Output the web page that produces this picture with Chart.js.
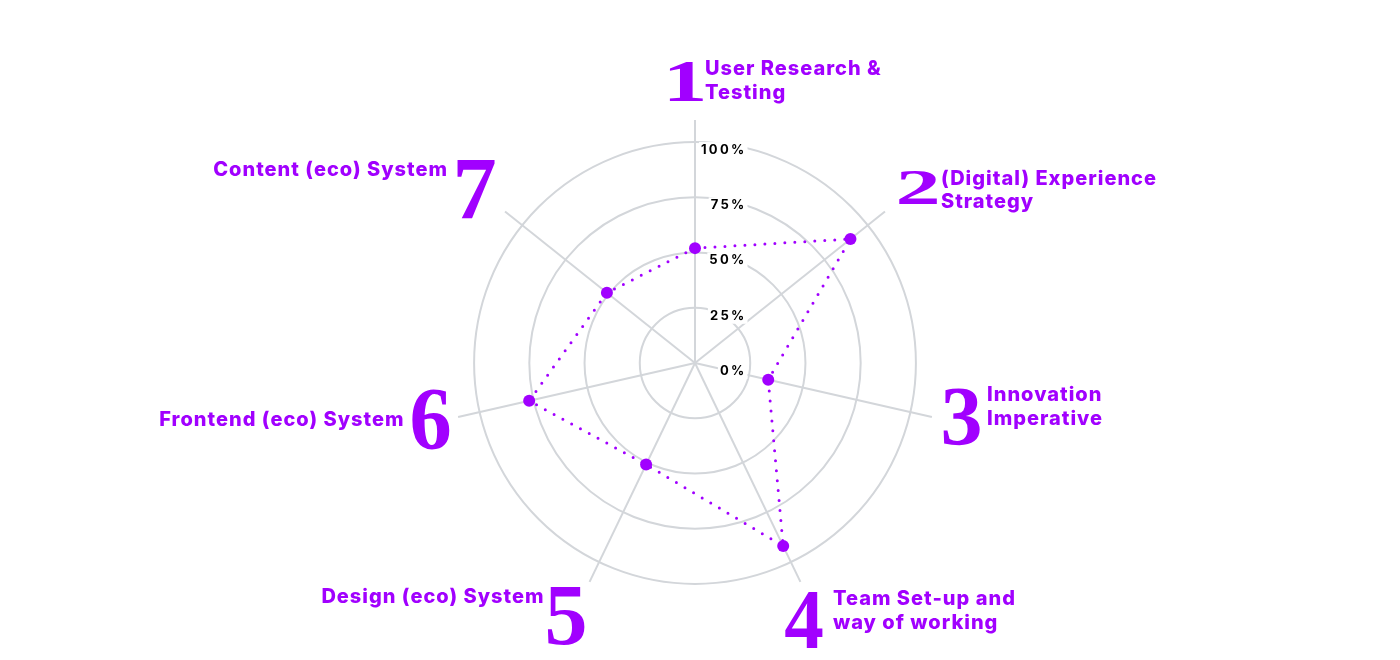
<!DOCTYPE html>
<html><head><meta charset="utf-8">
<script src="https://cdn.jsdelivr.net/npm/chart.js@4.4.1/dist/chart.umd.min.js"></script>
<style>html,body{margin:0;padding:0;background:#fff;} canvas{display:block;}</style>
</head><body>
<canvas id="c" width="1400" height="660"></canvas>
<script>
// ---- data ----
const categoryNumbers = ['1','2','3','4','5','6','7'];
const categories = [
  ['User Research &', 'Testing'],
  ['(Digital) Experience', 'Strategy'],
  ['Innovation', 'Imperative'],
  ['Team Set-up and', 'way of working'],
  ['Design (eco) System'],
  ['Frontend (eco) System'],
  ['Content (eco) System']
];
const scores = [52, 90, 34, 92, 51, 77, 51];
const tickValues = [0, 25, 50, 75, 100];
const tickLabels = ['0%', '25%', '50%', '75%', '100%'];

// ---- style / layout ----
const PURPLE = '#A100FF';
const GRID = '#d3d6da';
// numeral boxes [x0, y0, x1, y1]
const numeralBoxes = [
  [670, 62, 703, 101],
  [899, 171, 937, 205],
  [943, 390, 980, 447],
  [785, 593, 823, 649],
  [548, 588, 585, 645],
  [412, 390, 450, 450],
  [457, 161, 495, 219]
];
// text anchors: [align, x, first baseline]
const textAnchors = [
  ['left', 705, 75],
  ['left', 941, 184.5],
  ['left', 987, 401],
  ['left', 833, 605],
  ['right', 544.5, 603],
  ['right', 404.5, 425.5],
  ['right', 448, 175.5]
];
const LINE_H = 23.5;

const labelPlugin = {
  id: 'customLabels',
  beforeDatasetsDraw(chart) {
    const s = chart.scales.r;
    const ctx = chart.ctx;
    ctx.save();
    ctx.font = '700 13px Inter';
    ctx.letterSpacing = '2.3px';
    ctx.textAlign = 'right';
    ctx.textBaseline = 'middle';
    const xRight = s.xCenter + 51.5;
    tickValues.forEach((v, i) => {
      const y = s.yCenter - s.getDistanceFromCenterForValue(v) + 8;
      const w = ctx.measureText(tickLabels[i]).width;
      ctx.fillStyle = '#fff';
      ctx.fillRect(xRight - w - 2, y - 8, w + 3, 16);
      ctx.fillStyle = '#000';
      ctx.fillText(tickLabels[i], xRight, y);
    });
    ctx.restore();
  },
  afterDraw(chart) {
    const ctx = chart.ctx;
    ctx.save();
    ctx.fillStyle = PURPLE;
    // numerals
    ctx.font = 'bold 100px "Liberation Serif"';
    ctx.textAlign = 'left';
    ctx.textBaseline = 'alphabetic';
    categoryNumbers.forEach((d, i) => {
      const b = numeralBoxes[i];
      const m = ctx.measureText(d);
      const left = -m.actualBoundingBoxLeft, right = m.actualBoundingBoxRight;
      const top = -m.actualBoundingBoxAscent, bottom = m.actualBoundingBoxDescent;
      ctx.save();
      ctx.translate(b[0], b[1]);
      ctx.scale((b[2] - b[0]) / (right - left), (b[3] - b[1]) / (bottom - top));
      ctx.fillText(d, -left, -top);
      ctx.restore();
    });
    // category texts
    ctx.font = '800 20px Inter';
    ctx.letterSpacing = '1px';
    chart.data.labels.forEach((lines, i) => {
      const a = textAnchors[i];
      ctx.textAlign = a[0];
      lines.forEach((ln, j) => ctx.fillText(ln, a[1], a[2] + j * LINE_H));
    });
    ctx.restore();
  }
};

new Chart(document.getElementById('c'), {
  type: 'radar',
  data: {
    labels: categories,
    datasets: [{
      data: scores,
      borderColor: PURPLE,
      backgroundColor: PURPLE,
      borderWidth: 3,
      borderDash: [0, 10],
      borderCapStyle: 'round',
      fill: false,
      pointRadius: 6,
      pointBackgroundColor: PURPLE,
      pointBorderWidth: 0,
      tension: 0
    }]
  },
  options: {
    responsive: false,
    animation: false,
    devicePixelRatio: 1,
    layout: { padding: { left: 0, right: 10, top: 120, bottom: 54 } },
    plugins: { legend: { display: false }, tooltip: { enabled: false }, title: { display: false } },
    scales: {
      r: {
        min: 0,
        max: 110,
        startAngle: 0,
        ticks: { display: false, stepSize: 25 },
        pointLabels: { display: false },
        grid: {
          circular: true,
          lineWidth: 2,
          color: (c) => (c.tick && c.tick.value > 100) ? 'rgba(0,0,0,0)' : GRID
        },
        angleLines: { display: true, color: GRID, lineWidth: 2 }
      }
    }
  },
  plugins: [labelPlugin]
});
</script>
</body></html>
